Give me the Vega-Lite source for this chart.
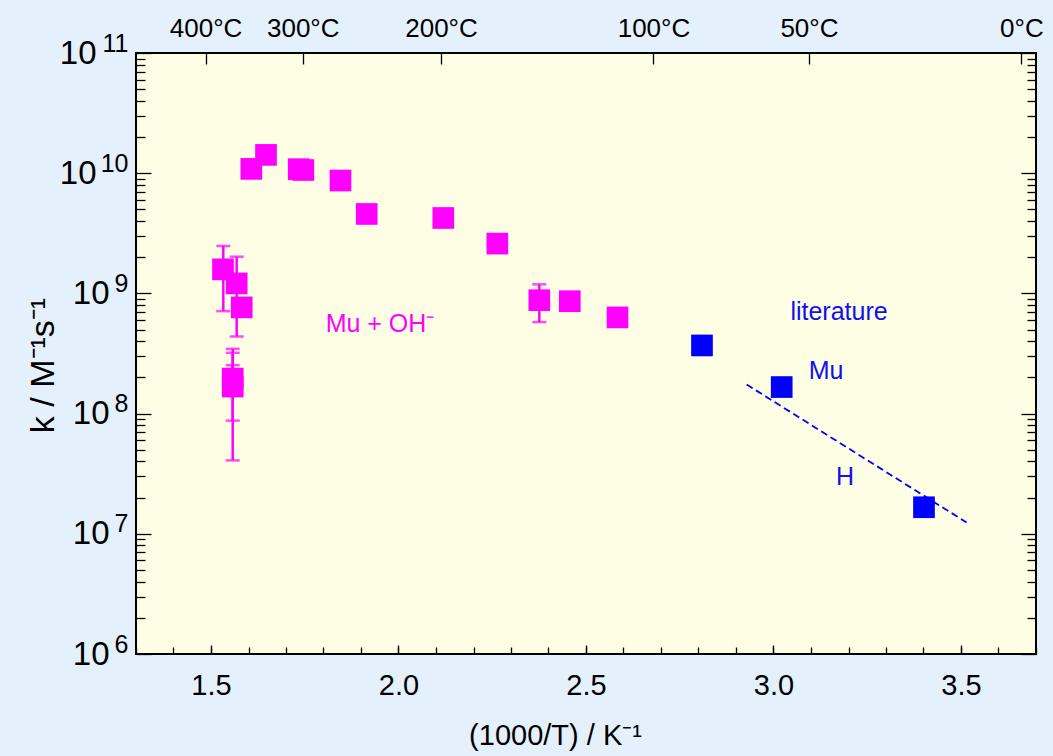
{
  "$schema": "https://vega.github.io/schema/vega-lite/v6.json",
  "width": 900,
  "height": 601,
  "autosize": {"type": "none"},
  "padding": {"left": 136, "top": 53, "right": 17, "bottom": 102},
  "background": "#e4f1fc",
  "config": {
    "view": {"fill": "#fefee4", "stroke": "#000000", "strokeWidth": 2},
    "axis": {"domain": false, "grid": false, "tickColor": "#000000", "labelColor": "#000000", "titleColor": "#000000", "labelFont": "Liberation Sans", "titleFont": "Liberation Sans", "titleFontWeight": "normal", "tickWidth": 1.3}
  },
  "datasets": {
    "pts": [
      {"x": 1.532, "k": 1.585e9, "grp": "m"},
      {"x": 1.5685, "k": 1.211e9, "grp": "m"},
      {"x": 1.5819, "k": 7.65e8, "grp": "m"},
      {"x": 1.5579, "k": 1.957e8, "grp": "m"},
      {"x": 1.5579, "k": 1.679e8, "grp": "m"},
      {"x": 1.6075, "k": 1.086e10, "grp": "m"},
      {"x": 1.6467, "k": 1.42e10, "grp": "m"},
      {"x": 1.7339, "k": 1.08e10, "grp": "m"},
      {"x": 1.7461, "k": 1.063e10, "grp": "m"},
      {"x": 1.8453, "k": 8.69e9, "grp": "m"},
      {"x": 1.9152, "k": 4.58e9, "grp": "m"},
      {"x": 2.1195, "k": 4.24e9, "grp": "m"},
      {"x": 2.2635, "k": 2.596e9, "grp": "m"},
      {"x": 2.3755, "k": 8.78e8, "grp": "m"},
      {"x": 2.4568, "k": 8.61e8, "grp": "m"},
      {"x": 2.584, "k": 6.31e8, "grp": "m"},
      {"x": 2.8093, "k": 3.69e8, "grp": "b"},
      {"x": 3.0219, "k": 1.663e8, "grp": "b"},
      {"x": 3.4013, "k": 1.663e7, "grp": "b"}
    ],
    "err": [
      {"x": 1.5328, "lo": 7.12e8, "hi": 2.48e9},
      {"x": 1.5685, "lo": 4.38e8, "hi": 2.02e9},
      {"x": 1.5579, "lo": 8.745e7, "hi": 3.46e8},
      {"x": 1.5579, "lo": 4.08e7, "hi": 3.205e8},
      {"x": 1.5579, "lo": 1.6e8, "hi": 2.527e8},
      {"x": 2.3755, "lo": 5.77e8, "hi": 1.19e9}
    ],
    "line": [
      {"x": 2.9285, "k": 1.745e8},
      {"x": 3.515, "k": 1.242e7}
    ],
    "labels": [
      {"x": 1.9507, "k": 5.52e8, "label": "Mu + OH⁻", "grp": "m"},
      {"x": 3.1747, "k": 6.95e8, "label": "literature", "grp": "b"},
      {"x": 3.14, "k": 2.28e8, "label": "Mu", "grp": "b"},
      {"x": 3.1907, "k": 2.99e7, "label": "H", "grp": "b"}
    ]
  },
  "layer": [
    {
      "data": {"name": "labels"},
      "mark": {"type": "text", "fontSize": 25, "font": "Liberation Sans", "align": "center", "baseline": "middle"},
      "encoding": {
        "x": {"field": "x", "type": "quantitative", "scale": {"domain": [1.3, 3.7], "nice": false, "zero": false},
          "axis": {"orient": "bottom", "values": [1.5, 2.0, 2.5, 3.0, 3.5], "format": ".1f", "tickSize": -9, "labelFontSize": 29, "labelFont": "Liberation Sans Narrow, Arial Narrow, Liberation Sans", "labelPadding": 26, "title": "(1000/T) / K⁻¹", "titleFontSize": 29, "titleFont": "Liberation Sans Narrow, Arial Narrow, Liberation Sans", "titlePadding": 21, "titleX": 419}},
        "y": {"field": "k", "type": "quantitative", "scale": {"type": "log", "domain": [1e6, 1e11], "nice": false},
          "axis": {"orient": "left", "values": [1e6, 1e7, 1e8, 1e9, 1e10, 1e11], "tickSize": -15, "labelFontSize": 33, "labelPadding": 42, "labelExpr": "datum.value < 5e9 ? '10' : ''", "title": "k / M⁻¹s⁻¹", "titleFontSize": 34, "titleX": -76, "titleY": 312}},
        "text": {"field": "label"},
        "color": {"field": "grp", "type": "nominal", "scale": {"domain": ["m", "b"], "range": ["#ff00ff", "#1010f0"]}, "legend": null}
      }
    },
    {
      "data": {"name": "err"},
      "mark": {"type": "rule", "strokeWidth": 2.5, "color": "#ff00ff"},
      "encoding": {
        "x": {"field": "x", "type": "quantitative",
          "axis": {"orient": "top", "values": [1.4856, 1.7447, 2.1134, 2.6799, 3.0945, 3.661], "labelExpr": "round(1000/datum.value - 273.15) + '°C'", "tickSize": -11, "labelFontSize": 26, "labelFont": "Liberation Sans Narrow, Arial Narrow, Liberation Sans", "labelPadding": 23, "title": null}},
        "y": {"field": "lo", "type": "quantitative",
          "axis": {"orient": "right", "values": [1e6, 1e7, 1e8, 1e9, 1e10, 1e11], "labels": false, "tickSize": -15, "title": null}},
        "y2": {"field": "hi"}
      }
    },
    {
      "data": {"name": "err"},
      "transform": [{"fold": ["lo", "hi"], "as": ["end", "kv"]}],
      "mark": {"type": "tick", "orient": "horizontal", "size": 14, "thickness": 2.5, "color": "#ff00ff"},
      "encoding": {
        "x": {"field": "x", "type": "quantitative",
          "axis": {"orient": "bottom", "values": [1.3, 1.4, 1.5, 1.6, 1.7, 1.8, 1.9, 2.0, 2.1, 2.2, 2.3, 2.4, 2.5, 2.6, 2.7, 2.8, 2.9, 3.0, 3.1, 3.2, 3.3, 3.4, 3.5, 3.6, 3.7], "labels": false, "tickSize": -7, "title": null}},
        "y": {"field": "kv", "type": "quantitative",
          "axis": {"orient": "left", "values": [2e6, 3e6, 4e6, 5e6, 6e6, 7e6, 8e6, 9e6, 2e7, 3e7, 4e7, 5e7, 6e7, 7e7, 8e7, 9e7, 2e8, 3e8, 4e8, 5e8, 6e8, 7e8, 8e8, 9e8, 2e9, 3e9, 4e9, 5e9, 6e9, 7e9, 8e9, 9e9, 2e10, 3e10, 4e10, 5e10, 6e10, 7e10, 8e10, 9e10], "labels": false, "tickSize": -9, "title": null}}
      }
    },
    {
      "data": {"name": "line"},
      "mark": {"type": "line", "strokeDash": [7, 4], "strokeWidth": 1.8, "color": "#0000ff"},
      "encoding": {
        "x": {"field": "x", "type": "quantitative", "axis": null},
        "y": {"field": "k", "type": "quantitative",
          "axis": {"orient": "right", "values": [2e6, 3e6, 4e6, 5e6, 6e6, 7e6, 8e6, 9e6, 2e7, 3e7, 4e7, 5e7, 6e7, 7e7, 8e7, 9e7, 2e8, 3e8, 4e8, 5e8, 6e8, 7e8, 8e8, 9e8, 2e9, 3e9, 4e9, 5e9, 6e9, 7e9, 8e9, 9e9, 2e10, 3e10, 4e10, 5e10, 6e10, 7e10, 8e10, 9e10], "labels": false, "tickSize": -9, "title": null}}
      }
    },
    {
      "data": {"name": "pts"},
      "transform": [{"filter": "datum.grp == 'm'"}],
      "mark": {"type": "point", "shape": "square", "filled": true, "size": 470, "opacity": 1, "color": "#ff00ff"},
      "encoding": {
        "x": {"field": "x", "type": "quantitative", "axis": null},
        "y": {"field": "k", "type": "quantitative",
          "axis": {"orient": "left", "values": [1e10, 1e11], "ticks": false, "labelFontSize": 33, "labelPadding": 40, "labelExpr": "'10'", "title": null}}
      }
    },
    {
      "data": {"name": "pts"},
      "transform": [{"filter": "datum.grp == 'b'"}],
      "mark": {"type": "point", "shape": "square", "filled": true, "size": 470, "opacity": 1, "color": "#0000ff"},
      "encoding": {
        "x": {"field": "x", "type": "quantitative", "axis": null},
        "y": {"field": "k", "type": "quantitative",
          "axis": {"orient": "left", "values": [1e6, 1e7, 1e8, 1e9, 1e10, 1e11], "ticks": false, "labelFontSize": 25, "labelPadding": 8, "labelOffset": -10, "labelExpr": "'' + round(log(datum.value)/LN10)", "title": null}}
      }
    }
  ],
  "resolve": {"axis": {"x": "independent", "y": "independent"}}
}
